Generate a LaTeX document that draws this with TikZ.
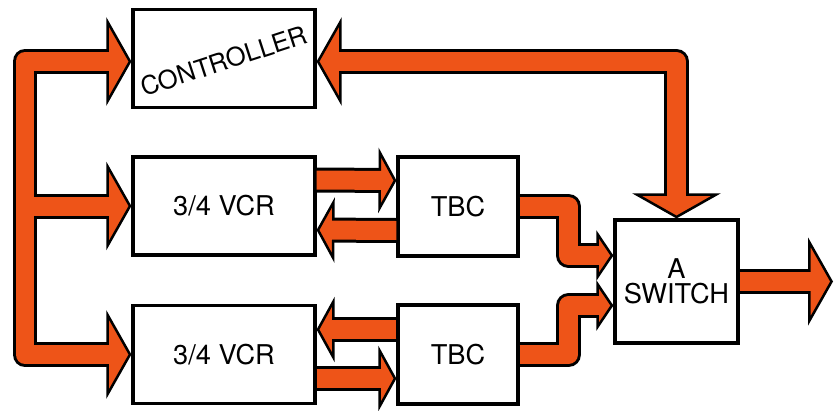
\documentclass[tikz,border=0pt]{standalone}
\usepackage{fontspec}
\setmainfont{TeX Gyre Heros}
\usetikzlibrary{arrows.meta}
\definecolor{signal}{RGB}{238,84,24}
\tikzset{
  bigtip/.tip={Triangle[width=1.76cm,length=0.5cm,fill=signal,color=black,line width=0.05cm]},
  midtip/.tip={Triangle[width=1.3cm,length=0.36cm,fill=signal,color=black,line width=0.05cm]},
  smalltip/.tip={Triangle[width=1.0cm,length=0.34cm,fill=signal,color=black,line width=0.05cm]}
}

\begin{document}
\begin{tikzpicture}[x=0.02cm,y=-0.02cm,
    block/.style={draw,line width=1.8pt,fill=white,inner sep=0pt,align=center,
      font=\fontsize{15.5}{14.5}\selectfont},
    vcrbox/.style={block,minimum width=3.64cm,minimum height=1.96cm},
    tbcbox/.style={block,minimum width=2.4cm,minimum height=1.98cm},
    rim/.style={line width=0.5cm,black,line join=round},
    core/.style={line width=0.38cm,signal,line join=round}]
            \useasboundingbox (0,0) rectangle (835,410);
            % boxes
            \node[vcrbox] (ctrl) at (224,58.5) {};
            \node[rotate=18,font=\fontsize{14.5}{17}\selectfont] (ctrltext) at (224,61) {CONTROLLER};
            \node[vcrbox] (vcr1) at (224,206) {3/4 VCR};
            \node[vcrbox] (vcr2) at (224,354.5) {3/4 VCR};
            \node[tbcbox] (tbc1) at (458,206.5) {TBC};
            \node[tbcbox] (tbc2) at (458,354.5) {TBC};
            \node[block,minimum size=2.46cm] (sw) at (676.5,281.5) {A\\SWITCH};
            \coordinate (bus) at (25,206);
            \coordinate (out) at (833,281.5);
            % black rims of the arrows
            \draw[rim,-bigtip] (bus) |- ([yshift=-0.06cm]ctrl.west);
            \draw[rim,-bigtip] (bus) -- (vcr1.west);
            \draw[rim,-bigtip] (bus) |- (vcr2.west);
            \draw[rim,bigtip-bigtip] ([yshift=-0.06cm]ctrl.east) -| (sw.north);
            \draw[rim,-midtip] ([yshift=0.52cm]vcr1.east) -- ([yshift=0.52cm]tbc1.west);
            \draw[rim,-midtip] ([yshift=-0.48cm]tbc1.west) -- ([yshift=-0.48cm]vcr1.east);
            \draw[rim,-midtip] ([yshift=0.5cm]tbc2.west) -- ([yshift=0.5cm]vcr2.east);
            \draw[rim,-midtip] ([yshift=-0.48cm]vcr2.east) -- ([yshift=-0.48cm]tbc2.west);
            \draw[rim,-smalltip] (tbc1.east) -- ++(49,0) |- ([yshift=0.52cm]sw.west);
            \draw[rim,-smalltip] (tbc2.east) -- ++(49,0) |- ([yshift=-0.48cm]sw.west);
            \draw[rim,-bigtip] (sw.east) -- (out);
            % orange fill of the arrows
            \draw[core,shorten >=0.3cm] (bus) |- ([yshift=-0.06cm]ctrl.west);
            \draw[core,shorten >=0.3cm] (bus) -- (vcr1.west);
            \draw[core,shorten >=0.3cm] (bus) |- (vcr2.west);
            \draw[core,shorten <=0.3cm,shorten >=0.3cm] ([yshift=-0.06cm]ctrl.east) -| (sw.north);
            \draw[core,shorten >=0.22cm] ([yshift=0.52cm]vcr1.east) -- ([yshift=0.52cm]tbc1.west);
            \draw[core,shorten >=0.22cm] ([yshift=-0.48cm]tbc1.west) -- ([yshift=-0.48cm]vcr1.east);
            \draw[core,shorten >=0.22cm] ([yshift=0.5cm]tbc2.west) -- ([yshift=0.5cm]vcr2.east);
            \draw[core,shorten >=0.22cm] ([yshift=-0.48cm]vcr2.east) -- ([yshift=-0.48cm]tbc2.west);
            \draw[core,shorten >=0.24cm] (tbc1.east) -- ++(49,0) |- ([yshift=0.52cm]sw.west);
            \draw[core,shorten >=0.24cm] (tbc2.east) -- ++(49,0) |- ([yshift=-0.48cm]sw.west);
            \draw[core,shorten >=0.3cm] (sw.east) -- (out);
\end{tikzpicture}
\end{document}
